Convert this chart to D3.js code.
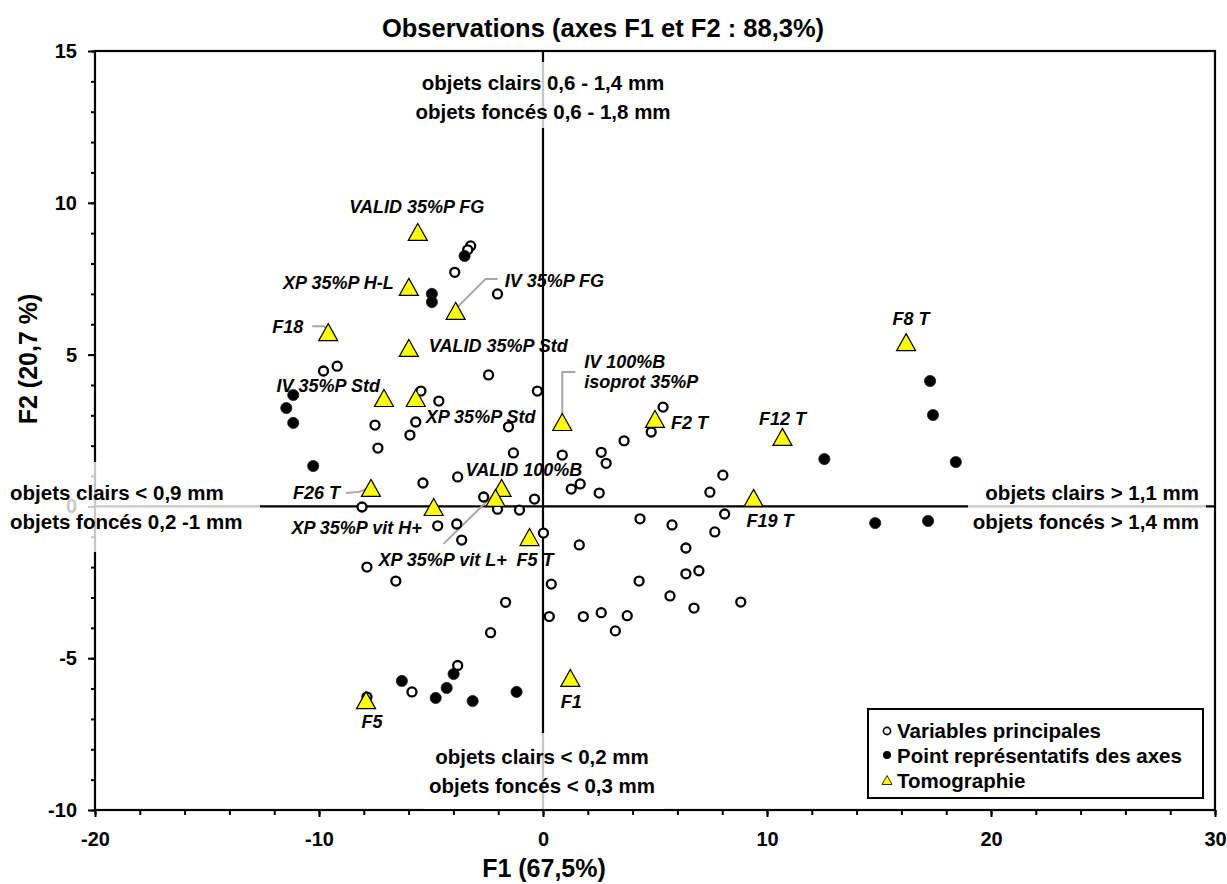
<!DOCTYPE html>
<html><head><meta charset="utf-8">
<script src="https://cdn.jsdelivr.net/npm/d3@7"></script>
<style>body{margin:0;background:#fff;} text{font-family:"Liberation Sans",Arial,sans-serif;font-weight:bold;}</style>
</head><body>
<svg id="chart" width="1227" height="884"></svg>
<script>
// ---- data ----
const varX = [-3.23,-3.36,-3.94,-2.03,-9.80,-9.19,-2.43,-0.25,-5.45,-4.65,-7.50,-5.68,-5.94,-1.54,-7.37,-1.32,0.86,-5.36,-3.81,-2.65,-0.38,-8.08,-2.03,-1.05,-4.70,-3.85,-3.63,0.02,-7.86,-6.57,2.60,2.82,3.62,4.83,5.36,1.26,1.66,2.51,7.45,8.03,4.33,5.76,8.11,7.67,1.62,6.38,6.38,6.96,0.37,4.29,5.67,6.74,8.83,0.28,1.80,2.60,3.76,3.23,-1.67,-2.34,-3.81,-5.85,-7.86];
const varY = [8.58,8.45,7.71,7.00,4.46,4.62,4.33,3.80,3.80,3.47,2.68,2.78,2.35,2.62,1.92,1.76,1.69,0.77,0.97,0.31,0.24,-0.02,-0.09,-0.12,-0.64,-0.58,-1.11,-0.88,-2.00,-2.46,1.78,1.42,2.16,2.45,3.27,0.57,0.74,0.44,0.47,1.03,-0.41,-0.61,-0.25,-0.84,-1.27,-1.37,-2.22,-2.12,-2.56,-2.46,-2.95,-3.35,-3.15,-3.63,-3.63,-3.50,-3.60,-4.10,-3.16,-4.16,-5.24,-6.11,-6.28];
const axX = [-3.50,-4.96,-4.96,-11.15,-11.46,-11.15,-10.26,17.28,17.41,12.56,18.43,14.83,17.19,-3.99,-4.30,-4.79,-6.30,-3.14,-1.18];
const axY = [8.25,7.00,6.73,3.67,3.24,2.75,1.33,4.13,3.01,1.56,1.46,-0.55,-0.48,-5.52,-5.98,-6.31,-5.75,-6.41,-6.11];
const tomoNames = ["VALID 35%P FG","XP 35%P H-L","IV 35%P FG","F18","VALID 35%P Std","IV 35%P Std","XP 35%P Std","IV 100%B\nisoprot 35%P","F2 T","F12 T","F8 T","F19 T","VALID 100%B","XP 35%P vit L+","XP 35%P vit H+","F26 T","F5 T","F5","F1"];
const tomoX = [-5.59,-5.99,-3.90,-9.59,-5.99,-7.10,-5.68,0.86,5.00,10.69,16.21,9.40,-1.85,-2.12,-4.88,-7.68,-0.60,-7.90,1.22];
const tomoY = [9.04,7.23,6.44,5.74,5.22,3.57,3.57,2.78,2.88,2.29,5.41,0.28,0.61,0.28,-0.02,0.61,-1.01,-6.38,-5.65];
const xTicks = [-20,-10,0,10,20,30];
const yTicks = [-10,-5,0,5,10,15];
const seriesNames = ["Variables principales","Point représentatifs des axes","Tomographie"];
const titleText = "Observations (axes F1 et F2 : 88,3%)";
const xTitle = "F1 (67,5%)", yTitle = "F2 (20,7 %)";

// ---- label layout (pixel offsets from marker) ----
const labelLayout = [
 {dx:-1,dy:-19,a:"middle"},{dx:-15,dy:2,a:"end"},{dx:49,dy:-24,a:"start",lead:[[1,-3],[30,-32],[42,-32]]},
 {dx:-25,dy:1,a:"end",lead:[[-16,-6],[-4,-6],[0,-1]]},{dx:20,dy:4,a:"start"},{dx:-4,dy:-6,a:"end"},
 {dx:10,dy:25,a:"start"},{dx:22,dy:-54,a:"start",lead:[[0,-6],[0,-50],[13,-50]]},{dx:16,dy:10,a:"start"},
 {dx:0,dy:-12,a:"middle"},{dx:5,dy:-17,a:"middle"},{dx:-7,dy:29,a:"start"},{dx:-36,dy:-12,a:"start"},
 {dx:-117,dy:68,a:"start",lead:[[-52,46],[0,-5]]},{dx:-12,dy:27,a:"end"},{dx:-31,dy:11,a:"end",lead:[[-25,5],[-12,4],[-2,0]]},
 {dx:-13,dy:29,a:"start"},{dx:6,dy:28,a:"middle"},{dx:1,dy:30,a:"middle"}
];

const svg = d3.select("#chart");
const L=95,R=1215,T=51,B=810;
const x = d3.scaleLinear().domain([-20,30]).range([L,R]);
const y = d3.scaleLinear().domain([-10,15]).range([B,T]);
const fmt = d => String(d);

// title
svg.append("text").attr("x",603).attr("y",37).attr("text-anchor","middle").attr("font-size",25.5).text(titleText);

// minor ticks
svg.append("g").attr("transform",`translate(0,${B})`)
  .call(d3.axisBottom(x).tickValues(d3.range(-20,31,2)).tickSize(5).tickFormat(""))
  .call(g=>g.select(".domain").remove()).selectAll("line").attr("stroke","#000").attr("stroke-width",2);
svg.append("g").attr("transform",`translate(${L},0)`)
  .call(d3.axisLeft(y).tickValues(d3.range(-10,16,1)).tickSize(4).tickFormat(""))
  .call(g=>g.select(".domain").remove()).selectAll("line").attr("stroke","#000").attr("stroke-width",2);
// major ticks
const gx = svg.append("g").attr("transform",`translate(0,${B})`)
  .call(d3.axisBottom(x).tickValues(xTicks).tickFormat(fmt).tickSize(7).tickPadding(15));
gx.select(".domain").remove();
gx.selectAll("line").attr("stroke","#000").attr("stroke-width",2);
gx.selectAll("text").attr("font-size",20).attr("fill","#000").attr("font-family","Liberation Sans, Arial").attr("font-weight","bold");
const gy = svg.append("g").attr("transform",`translate(${L},0)`)
  .call(d3.axisLeft(y).tickValues(yTicks).tickFormat(fmt).tickSize(7).tickPadding(11));
gy.select(".domain").remove();
gy.selectAll("line").attr("stroke","#000").attr("stroke-width",2);
gy.selectAll("text").attr("font-size",20).attr("fill","#000").attr("font-family","Liberation Sans, Arial").attr("font-weight","bold");

// frame
svg.append("rect").attr("x",L).attr("y",T).attr("width",R-L).attr("height",B-T).attr("fill","none").attr("stroke","#000").attr("stroke-width",2.2);
// origin axes
svg.append("line").attr("x1",L).attr("x2",R).attr("y1",y(0)).attr("y2",y(0)).attr("stroke","#000").attr("stroke-width",2.2);
svg.append("line").attr("x1",x(0)).attr("x2",x(0)).attr("y1",T).attr("y2",B).attr("stroke","#000").attr("stroke-width",2.2);

// axis titles
svg.append("text").attr("x",544).attr("y",877).attr("text-anchor","middle").attr("font-size",25).text(xTitle);
svg.append("text").attr("transform","translate(37,359) rotate(-90)").attr("text-anchor","middle").attr("font-size",25).text(yTitle);

// leader lines
const lg = svg.append("g");
labelLayout.forEach((l,i)=>{
  if(!l.lead) return;
  const px=x(tomoX[i]), py=y(tomoY[i]);
  lg.append("polyline").attr("points",l.lead.map(p=>[px+p[0],py+p[1]].join(",")).join(" "))
    .attr("fill","none").attr("stroke","#a6a6a6").attr("stroke-width",2);
});

// points
svg.append("g").selectAll("circle").data(d3.range(varX.length)).join("circle")
  .attr("cx",i=>x(varX[i])).attr("cy",i=>y(varY[i])).attr("r",4.5)
  .attr("fill","#fff").attr("stroke","#000").attr("stroke-width",2.3);
svg.append("g").selectAll("circle").data(d3.range(axX.length)).join("circle")
  .attr("cx",i=>x(axX[i])).attr("cy",i=>y(axY[i])).attr("r",5.6)
  .attr("fill","#000").attr("stroke","#222").attr("stroke-width",0.8);
const tri=(cx,cy,w,h)=>`M${cx},${cy-h/2}L${cx+w/2},${cy+h/2}L${cx-w/2},${cy+h/2}Z`;
svg.append("g").selectAll("path").data(d3.range(tomoX.length)).join("path")
  .attr("d",i=>tri(x(tomoX[i]),y(tomoY[i]),19,17))
  .attr("fill","#ffff00").attr("stroke","#000").attr("stroke-width",1.2);

// point labels
const tl = svg.append("g");
tomoNames.forEach((n,i)=>{
  const l=labelLayout[i], px=x(tomoX[i]), py=y(tomoY[i]);
  const t=tl.append("text").attr("font-size",18).attr("font-style","italic").attr("text-anchor",l.a);
  n.split("\n").forEach((s,k)=>t.append("tspan").attr("x",px+l.dx).attr("y",py+l.dy+k*20).text(s));
});

// annotation boxes
function annot(bx,by,bw,bh,lines,anchor,tx,ty){
  svg.append("rect").attr("x",bx).attr("y",by).attr("width",bw).attr("height",bh).attr("fill","#fff").attr("fill-opacity",0.78);
  lines.forEach((s,k)=>svg.append("text").attr("x",tx).attr("y",ty+k*29).attr("text-anchor",anchor).attr("font-size",20.5).text(s));
}
annot(408,62,272,66,["objets clairs 0,6 - 1,4 mm","objets foncés 0,6 - 1,8 mm"],"middle",543,90);
annot(0,462,260,90,["objets clairs < 0,9 mm","objets foncés 0,2 -1 mm"],"start",10,500);
annot(968,478,238,60,["objets clairs > 1,1 mm","objets foncés > 1,4 mm"],"end",1199,500);
annot(424,733,240,76,["objets clairs < 0,2 mm","objets foncés < 0,3 mm"],"middle",542,764);

// legend
const lgd = svg.append("g");
lgd.append("rect").attr("x",868).attr("y",709).attr("width",335).attr("height",89).attr("fill","#fff").attr("stroke","#000").attr("stroke-width",2);
lgd.append("circle").attr("cx",887).attr("cy",731).attr("r",3.6).attr("fill","#fff").attr("stroke","#000").attr("stroke-width",1.6);
lgd.append("circle").attr("cx",887).attr("cy",755).attr("r",4).attr("fill","#000");
lgd.append("path").attr("d",tri(887,780,10,9)).attr("fill","#ffff00").attr("stroke","#000").attr("stroke-width",0.8);
seriesNames.forEach((s,k)=>lgd.append("text").attr("x",897).attr("y",738+k*25).attr("font-size",20.5).text(s));
</script>
</body></html>
